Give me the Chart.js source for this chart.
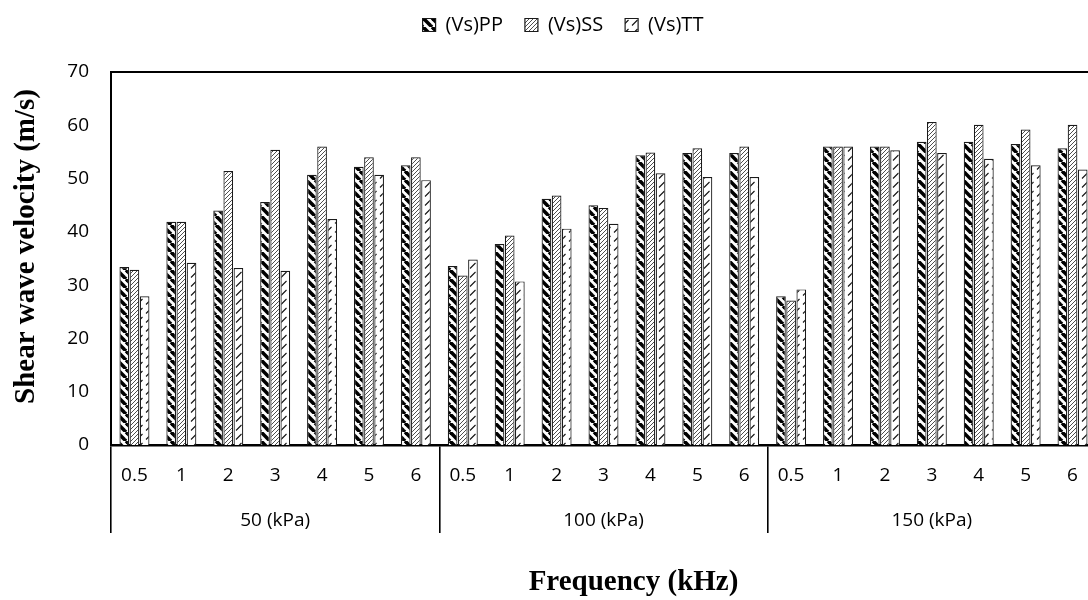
<!DOCTYPE html>
<html>
<head>
<meta charset="utf-8">
<title>Shear wave velocity vs frequency</title>
<script src="https://cdn.jsdelivr.net/npm/chart.js@4/dist/chart.umd.min.js"></script>
<style>
  html, body { margin: 0; padding: 0; background: #fff; overflow: hidden; }
  #wrap { position: relative; width: 1096px; height: 600px; }
</style>
</head>
<body>
<div id="wrap"><canvas id="chart"></canvas></div>
<script>
// Frequencies tested at each confining pressure
const frequencies = ['0.5', '1', '2', '3', '4', '5', '6'];
const pressures = ['50 (kPa)', '100 (kPa)', '150 (kPa)'];

// Shear wave velocity (m/s), 50 / 100 / 150 kPa blocks in frequency order
const vsPP = [33.4, 41.9, 44.0, 45.6, 50.7, 52.2, 52.5,
              33.6, 37.7, 46.2, 45.0, 54.4, 54.8, 54.8,
              27.9, 56.0, 56.0, 56.9, 56.9, 56.5, 55.7];
const vsSS = [32.9, 41.9, 51.4, 55.4, 56.0, 54.0, 54.0,
              31.8, 39.3, 46.8, 44.5, 54.9, 55.7, 56.0,
              27.1, 56.0, 56.0, 60.6, 60.1, 59.2, 60.1];
const vsTT = [27.9, 34.2, 33.2, 32.7, 42.4, 50.7, 49.7,
              34.8, 30.7, 40.6, 41.5, 51.0, 50.3, 50.3,
              29.2, 56.0, 55.3, 54.8, 53.7, 52.5, 51.7];

const seriesNames = ['(Vs)PP', '(Vs)SS', '(Vs)TT'];
const yTicks = [0, 10, 20, 30, 40, 50, 60, 70];
const xTitle = 'Frequency (kHz)';
const yTitle = 'Shear wave velocity (m/s)';

// one category per (pressure, frequency) pair
const categories = [];
pressures.forEach(() => frequencies.forEach(f => categories.push(f)));

// hatch fills
function hatch(size, draw) {
  const c = document.createElement('canvas');
  c.width = c.height = size;
  const g = c.getContext('2d');
  g.fillStyle = '#fff';
  g.fillRect(0, 0, size, size);
  draw(g, size);
  return g.createPattern(c, 'repeat');
}
const fillPP = hatch(9, (g, s) => {
  g.strokeStyle = '#000'; g.lineWidth = 3.6;
  for (const o of [-s, 0, s]) { g.beginPath(); g.moveTo(o, 0); g.lineTo(o + s, s); g.stroke(); }
});
const fillSS = hatch(4, (g, s) => {
  g.strokeStyle = '#3a3a3a'; g.lineWidth = 0.9;
  for (const o of [-s, 0, s]) { g.beginPath(); g.moveTo(o, s); g.lineTo(o + s, 0); g.stroke(); }
});
const fillTT = hatch(9, (g) => {
  g.strokeStyle = '#111'; g.lineWidth = 1.1;
  g.beginPath(); g.moveTo(2, 7.5); g.lineTo(7.5, 2); g.stroke();
});

const tickFont = { family: '"Open Sans", "DejaVu Sans", sans-serif', size: 19 };

// axis titles
const axisTitles = {
  id: 'axisTitles',
  afterDraw(chart) {
    const { ctx, chartArea: a } = chart;
    ctx.save();
    ctx.fillStyle = '#000';
    ctx.font = 'bold 29px "Liberation Serif", "Times New Roman", serif';
    ctx.textAlign = 'center';
    ctx.textBaseline = 'middle';
    ctx.fillText(xTitle, (a.left + a.right) / 2 + 30, chart.height - 17);
    ctx.translate(27, (a.top + a.bottom) / 2 - 12);
    ctx.rotate(-Math.PI / 2);
    ctx.fillText(yTitle, 0, 0);
    ctx.restore();
  }
};

const barStyle = { borderColor: '#1a1a1a', borderWidth: 1.2, categoryPercentage: 0.65, barPercentage: 0.95 };

new Chart(document.getElementById('chart'), {
  type: 'bar',
  data: {
    labels: categories,
    datasets: [
      { label: seriesNames[0], data: vsPP, backgroundColor: fillPP, ...barStyle },
      { label: seriesNames[1], data: vsSS, backgroundColor: fillSS, ...barStyle },
      { label: seriesNames[2], data: vsTT, backgroundColor: fillTT, ...barStyle }
    ]
  },
  options: {
    responsive: true,
    maintainAspectRatio: false,
    animation: false,
    layout: { padding: { top: -7, left: 30, right: 0, bottom: 0 } },
    plugins: {
      legend: {
        position: 'top',
        labels: {
          boxWidth: 13, boxHeight: 13, padding: 22, color: '#000',
          font: { family: '"Open Sans", "DejaVu Sans", sans-serif', size: 20 }
        }
      },
      tooltip: { enabled: false }
    },
    scales: {
      x: {
        type: 'category', position: 'bottom', weight: 0, offset: true,
        grid: {
          offset: true, drawOnChartArea: false, drawTicks: true, tickLength: 45, lineWidth: 1.6,
          color: c => (c.index !== undefined && c.index % frequencies.length === 0 ? '#000' : 'rgba(0,0,0,0)')
        },
        border: { display: true, color: '#000', width: 2.5 },
        ticks: { padding: -26, font: tickFont, color: '#000', maxRotation: 0, autoSkip: false },
        afterFit: s => { s.height = 45; }
      },
      x2: {
        type: 'category', labels: pressures, position: 'bottom', weight: 1, offset: true,
        grid: { offset: true, drawOnChartArea: false, drawTicks: true, tickLength: 43, lineWidth: 1.6, color: '#000' },
        border: { display: false },
        ticks: { padding: -24, font: tickFont, color: '#000', maxRotation: 0 },
        afterFit: s => { s.height = 110; }
      },
      xTop: {
        type: 'linear', position: 'top', min: 0, max: 1,
        grid: { display: false }, ticks: { display: false },
        border: { display: true, color: '#000', width: 2 },
        afterFit: s => { s.height = 27; }
      },
      y: {
        min: 0, max: 70,
        afterBuildTicks: s => { s.ticks = yTicks.map(v => ({ value: v })); },
        ticks: { padding: 22, font: tickFont, color: '#000' },
        grid: { display: false, drawTicks: false },
        border: { display: true, color: '#000', width: 2 },
        afterFit: s => { s.width = 81; }
      }
    }
  },
  plugins: [axisTitles]
});
</script>
</body>
</html>
